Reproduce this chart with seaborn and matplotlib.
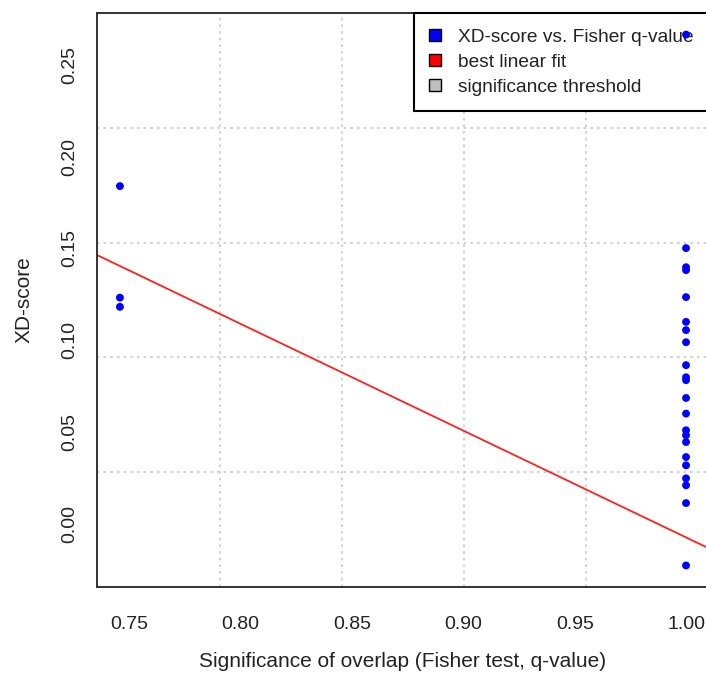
import numpy as np
import matplotlib
matplotlib.use("Agg")
import matplotlib.pyplot as plt
from matplotlib.patches import Patch
import seaborn as sns

# values
fisher_q = [0.7458, 0.7458, 0.7458] + [1.0] * 22
xd_score = [0.1840, 0.1232, 0.1182,
            0.2666, 0.1502, 0.1398, 0.1382, 0.1235, 0.1100, 0.1055, 0.0989,
            0.0864, 0.0798, 0.0782, 0.0685, 0.0600, 0.0509, 0.0482, 0.0445,
            0.0363, 0.0318, 0.0247, 0.0209, 0.0112, -0.0228]
fit_intercept = 0.5745
fit_slope = -0.582
x_ticks = [0.75, 0.80, 0.85, 0.90, 0.95, 1.00]
y_ticks = [0.00, 0.05, 0.10, 0.15, 0.20, 0.25]
legend_labels = ["XD-score vs. Fisher q-value", "best linear fit", "significance threshold"]
legend_colors = ["#0000ff", "#ff0000", "#bebebe"]

sns.set_style("white")
plt.rcParams['font.family'] = ['Liberation Sans', 'DejaVu Sans']
txt = "#222222"

fig = plt.figure(figsize=(7.06, 6.85), dpi=100)
ax = fig.add_axes([0.1378, 0.1435, 0.866, 0.837])

# R style limits: 4% padding on each side
xr = max(fisher_q) - min(fisher_q)
yr = max(xd_score) - min(xd_score)
x0, x1 = min(fisher_q) - 0.04 * xr, max(fisher_q) + 0.04 * xr
y0, y1 = min(xd_score) - 0.04 * yr, max(xd_score) + 0.04 * yr
ax.set_xlim(x0, x1)
ax.set_ylim(y0, y1)

# grid(5, 5): equal cells, not tied to ticks
for gx in np.linspace(x0, x1, 6)[1:-1]:
    ax.axvline(gx, color="#c8c8c8", ls=(0, (1.5, 2.5)), lw=1.2, zorder=0)
for gy in np.linspace(y0, y1, 6)[1:-1]:
    ax.axhline(gy, color="#c8c8c8", ls=(0, (1.5, 2.5)), lw=1.2, zorder=0)

sns.scatterplot(x=fisher_q, y=xd_score, color="#0000ff", s=32, edgecolor="none",
                ax=ax, zorder=6)
ax.axline((0, fit_intercept), slope=fit_slope, color="#ff2020", lw=1.3, zorder=2)

ax.set_xticks(x_ticks)
ax.set_xticklabels(["%.2f" % v for v in x_ticks])
ax.set_yticks(y_ticks)
ax.set_yticklabels(["%.2f" % v for v in y_ticks], rotation=90, va="center")
ax.tick_params(direction="out", length=10, width=1.2, color="#333333",
               labelcolor=txt, labelsize=14)
ax.tick_params(axis="x", pad=11)
ax.tick_params(axis="y", pad=3.5)
for sp in ax.spines.values():
    sp.set_color("#333333")
    sp.set_linewidth(1.4)

ax.set_xlabel("Significance of overlap (Fisher test, q-value)", fontsize=15,
              color=txt, labelpad=14)
ax.set_ylabel("XD-score", fontsize=15, color=txt, labelpad=20)

handles = [Patch(facecolor=c, edgecolor="black", lw=1) for c in legend_colors]
leg = ax.legend(handles, legend_labels, loc="upper right", bbox_to_anchor=(1, 1),
                borderaxespad=0, fancybox=False, framealpha=1, edgecolor="black",
                fontsize=13.8, handlelength=0.63, handleheight=0.63, handletextpad=0.85,
                labelspacing=0.42, borderpad=0.8)
leg.get_frame().set_linewidth(1.5)
for t in leg.get_texts():
    t.set_color(txt)
leg.set_zorder(5)

fig.savefig("out.png", dpi=100)
